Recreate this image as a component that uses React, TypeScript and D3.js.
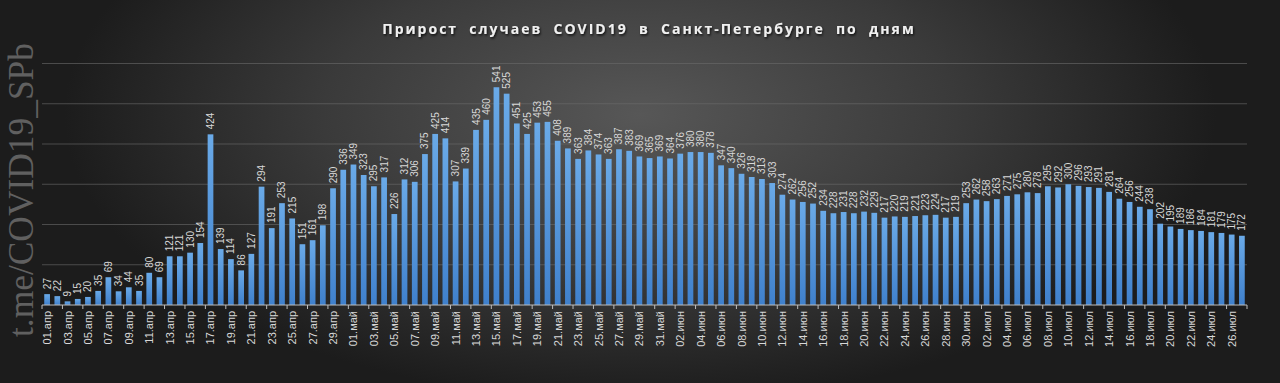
import React from "react";
import * as d3 from "d3";

const aprValues = [27, 22, 9, 15, 20, 35, 69, 34, 44, 35, 80, 69, 121, 121, 130, 154, 424, 139, 114, 86, 127, 294, 191, 253, 215, 151, 161, 198, 290, 336];
const mayValues = [349, 323, 295, 317, 226, 312, 306, 375, 425, 414, 307, 339, 435, 460, 541, 525, 451, 425, 453, 455, 408, 389, 363, 384, 374, 363, 387, 383, 369, 365, 369];
const junValues = [364, 376, 380, 380, 378, 347, 340, 326, 318, 313, 303, 274, 262, 256, 252, 234, 228, 231, 228, 232, 229, 217, 220, 219, 221, 223, 224, 217, 219, 253];
const julValues = [262, 258, 263, 271, 275, 280, 278, 295, 292, 300, 296, 293, 291, 281, 264, 256, 244, 238, 202, 195, 189, 186, 184, 181, 179, 175, 172];
const monthNames = ["апр", "май", "июн", "июл"];
const gridTicks = [100, 200, 300, 400, 500, 600];
const title = "Прирост  случаев  COVID19  в  Санкт-Петербурге  по  дням";
const watermark = "t.me/COVID19_SPb";

const pad = (n: number) => (n < 10 ? "0" + n : "" + n);
const categories: string[] = [];
const values: number[] = [];
[aprValues, mayValues, junValues, julValues].forEach((arr, m) => {
  arr.forEach((v, i) => {
    categories.push(pad(i + 1) + "." + monthNames[m]);
    values.push(v);
  });
});

const W = 1280;
const H = 383;
const left = 42;
const right = 1247;
const baseY = 305;
const topY = 63.5;

export default function App() {
  const x = d3.scaleBand<string>().domain(categories).range([left, right]).paddingInner(0.44).paddingOuter(0.22);
  const y = d3.scaleLinear().domain([0, 600]).range([baseY, topY]);
  const step = x.step();
  const bw = x.bandwidth();
  return (
    <svg width={W} height={H} style={{ position: "absolute", left: 0, top: 0, display: "block" }}>
      <defs>
        <radialGradient id="bg" cx="50%" cy="30%" r="75%" gradientTransform="translate(0.5 0.3) scale(0.6 1) translate(-0.5 -0.3)">
          <stop offset="0%" stopColor="#575757" />
          <stop offset="55%" stopColor="#3a3a3a" />
          <stop offset="100%" stopColor="#1c1c1c" />
        </radialGradient>
        <linearGradient id="bar" x1="0" y1="0" x2="0" y2="1">
          <stop offset="0%" stopColor="#6aaae8" />
          <stop offset="100%" stopColor="#3f80cc" />
        </linearGradient>
        <filter id="shadow" x="-5%" y="-50%" width="110%" height="200%">
          <feDropShadow dx="1" dy="1.5" stdDeviation="1" floodColor="#000" floodOpacity="0.8" />
        </filter>
      </defs>
      <rect x={0} y={0} width={W} height={H} fill="url(#bg)" />
      <text
        transform={`translate(33,337) rotate(-90)`}
        fontFamily="Liberation Serif, serif"
        fontSize={36}
        fill="#606060"
        textLength={294}
        lengthAdjust="spacingAndGlyphs"
      >
        {watermark}
      </text>
      <text
        x={649}
        y={34}
        textAnchor="middle"
        fontFamily="Open Sans, sans-serif"
        fontWeight="bold"
        fontSize={14}
        letterSpacing={2}
        fill="#f0f0f0"
        filter="url(#shadow)"
        style={{ whiteSpace: "pre" }}
        xmlSpace="preserve"
      >
        {title}
      </text>
      {gridTicks.map((t) => (
        <line key={t} x1={left} x2={right} y1={y(t)} y2={y(t)} stroke="#6a6a6a" strokeOpacity={0.6} strokeWidth={1} />
      ))}
      {categories.map((c, i) => (
        <rect key={c} x={x(c)} y={y(values[i])} width={bw} height={baseY - y(values[i])} fill="url(#bar)" />
      ))}
      {categories.map((c, i) => (
        <text
          key={"v" + c}
          transform={`translate(${(x(c) as number) + bw / 2 + 3.5},${y(values[i]) - 5}) rotate(-90)`}
          fontFamily="Liberation Sans, Arial, sans-serif"
          fontSize={10}
          fill="#d8d8d8"
        >
          {values[i]}
        </text>
      ))}
      <line x1={left} x2={right} y1={baseY} y2={baseY} stroke="#bdbdbd" strokeWidth={1} />
      {categories.map((c, i) =>
        i % 2 === 0 ? (
          <line key={"t" + c} x1={left + i * step} x2={left + i * step} y1={baseY} y2={baseY + 4} stroke="#bdbdbd" strokeWidth={1} />
        ) : null
      )}
      <line x1={right} x2={right} y1={baseY} y2={baseY + 4} stroke="#bdbdbd" strokeWidth={1} />
      {categories.map((c, i) =>
        i % 2 === 0 ? (
          <text
            key={"l" + c}
            transform={`translate(${(x(c) as number) + bw / 2 + 4},${baseY + 6}) rotate(-90)`}
            textAnchor="end"
            fontFamily="Liberation Sans, Arial, sans-serif"
            fontSize={11}
            fill="#d8d8d8"
          >
            {c}
          </text>
        ) : null
      )}
    </svg>
  );
}
